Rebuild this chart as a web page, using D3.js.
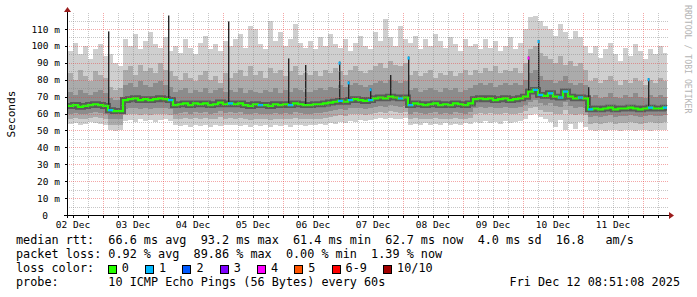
<!DOCTYPE html>
<html>
<head>
<meta charset="utf-8">
<script src="https://cdn.jsdelivr.net/npm/d3@7/dist/d3.min.js"></script>
<style>
  html, body { margin: 0; padding: 0; background: #fff; }
  svg text { font-family: "DejaVu Sans Mono", monospace; white-space: pre; }
</style>
</head>
<body>
<svg id="chart" width="697" height="297"></svg>
<script>
// data, one value per 2 hour bin (ms)
const rangeStart = "2025-12-02T09:36",
      rangeEnd = "2025-12-12T09:36";

const rttMedian = [64.5,65,64,64.5,65,65.5,65,64.5, 62,61.5,61.5,
  68,68.5,69,68,68.5,68,68.5,69,68.5,68,
  65,65.5,66,65,66,65.5,66,65,65.5,66.5,65.5,66,
  65.5,66,65,64.5,65.5,65,65,64.5,65.5,65,65.5,65,66,65.5,65,
  65,65.5,65.5,66,66.5,67,67.5,67, 68,68.5,68,67.5,68,
  69,69.5,69,70,69.5,69,69.5,
  65,66,65.5,65,65.5,66,65,65.5,65,66,65.5,65,66,
  68.5,69,68.5,69,68,68.5,69,68,68.5,69,70,
  73,74,71,70.5, 72,70,69.5,73,70,69,69.5,69,
  62.5,63,62.5,63,63.5,62.5,63,63,63.5,63,62.5,63,63.5,63,63,63.5];

const rttMax = [97,102,95,100,92,98,101,94, 95,90,88,
  104,100,107,98,103,108,101,99,105,97,
  100,96,104,99,95,102,106,98,101,97,103,100,
  104,107,99,112,110,101,98,115,103,108,100,104,113,102,99,
  103,98,105,100,107,101,99,104,97,102,106,100,98,
  108,103,116,105,100,112,104,
  102,106,98,104,100,107,103,99,105,101,97,104,100,
  101,98,104,99,103,97,100,105,98,102,110,
  117,118,115,112, 110,106,113,108,104,109,105,100,
  96,100,93,98,102,95,91,99,94,101,97,92,98,95,100,96];

const rttHigh2 = [84,80,86,82,79,85,83,81, 76,74,75,
  86,88,83,89,85,87,84,90,86,85,
  82,80,84,81,79,83,85,80,82,78,84,81,
  84,86,82,88,83,85,81,87,84,86,82,85,88,83,84,
  83,85,82,86,84,87,85,83,86,88,85,84,86,
  88,90,87,91,89,88,90,
  83,85,82,84,86,81,84,83,85,82,84,86,83,
  86,84,87,85,88,84,86,85,87,84,90,
  98,100,96,94, 92,90,94,89,91,88,90,86,
  79,81,78,80,82,79,77,80,78,81,79,77,80,78,81,79];

const rttHigh3 = [73,71,74,72,71,73,74,72, 69,68,68,
  77,78,76,79,77,76,78,79,77,76,
  73,74,75,72,74,73,75,72,74,75,73,74,
  73,75,72,74,73,72,74,73,75,72,74,73,75,74,73,
  73,74,75,74,76,75,77,76,77,78,77,76,77,
  78,79,78,80,79,78,79,
  74,75,73,74,75,74,73,75,74,75,73,74,75,
  77,78,77,78,76,77,78,77,78,77,80,
  84,86,82,80, 80,78,79,82,78,77,78,77,
  70,71,69,70,72,70,69,71,70,72,70,69,71,70,71,70];

const rttLow3 = [60,60.5,59.5,60,60.5,61,60.5,60, 57,56.5,56.5,
  62.5,63,63.5,62.5,63,62.5,63,63.5,63,62.5,
  60,60.5,61,60,61,60.5,61,60,60.5,61.5,60.5,61,
  60.5,61,60,59.5,60.5,60,60,59.5,60.5,60,60.5,60,61,60.5,60,
  60,60.5,60.5,61,61.5,62,62.5,62,63,63.5,63,62.5,63,
  64,64.5,64,65,64.5,64,64.5,
  60,61,60.5,60,60.5,61,60,60.5,60,61,60.5,60,61,
  63.5,64,63.5,64,63,63.5,64,63,63.5,64,65,
  67,68,66,65, 66,64.5,64,67,64.5,63.5,64,63.5,
  58,58.5,58,58.5,59,58,58.5,58.5,59,58.5,58,58.5,59,58.5,58.5,59];

const rttLow2 = [57,57.5,56.5,57,57.5,58,57.5,57, 53.5,53,53,
  59,59.5,60,59,59.5,59,59.5,60,59.5,59,
  56.5,57,57.5,56.5,57.5,57,57.5,56.5,57,58,57,57.5,
  57,57.5,56.5,56,57,56.5,56.5,56,57,56.5,57,56.5,57.5,57,56.5,
  56.5,57,57,57.5,58,58.5,59,58.5,59.5,60,59.5,59,59.5,
  60.5,61,60.5,61.5,61,60.5,61,
  56.5,57.5,57,56.5,57,57.5,56.5,57,56.5,57.5,57,56.5,57.5,
  60,60.5,60,60.5,59.5,60,60.5,59.5,60,60.5,61.5,
  63,64,62,61, 61,60,59.5,62,60,59,59.5,59,
  54,54.5,54,54.5,55,54,54.5,54.5,55,54.5,54,54.5,55,54.5,54.5,55];

const rttMin = [54,54.5,53.5,54,55,54.5,54,53.5, 50,49.5,50,
  55.5,56,55,56.5,55.5,56,55,56,56.5,55.5,
  53,52.5,53.5,52,53,52.5,53.5,52,53,52.5,53.5,53,
  53.5,52.5,53,52,53.5,52.5,53,52,53.5,52.5,53,52,53.5,53,52.5,
  53,53.5,54,53.5,54.5,54,55,54.5,55.5,55,56,55.5,56,
  57,57.5,56.5,57.5,57,56.5,57.5,
  53.5,54,53,54.5,53.5,54,53,54.5,53.5,54,53,54.5,54,
  55,54.5,55.5,54.5,55,54,55.5,54.5,55,55.5,57,
  59,60,58,57, 55,52,56,50,54,51,55,52,
  50,49.5,50.5,49.5,50,50.5,49.5,50,50.5,49.5,50,50.5,49.5,50,50.5,50];

// bins where pings were lost (bin index, lost pings of 10)
const lossBins = [8, 20, 32, 38, 44, 54, 56, 60, 66, 68, 93, 94, 96, 98, 99, 102, 104, 116, 119];
const lossCounts = [1, 1, 1, 1, 1, 1, 1, 1, 1, 1, 1, 1, 1, 1, 1, 1, 1, 1, 1];

// short high-latency spikes
const spikeTimes = ["2025-12-03T02:00", "2025-12-04T02:00", "2025-12-05T02:00", "2025-12-06T02:00",
  "2025-12-06T08:48", "2025-12-06T22:24", "2025-12-07T02:00", "2025-12-07T10:48", "2025-12-07T18:48",
  "2025-12-08T02:00", "2025-12-10T02:00", "2025-12-10T06:00", "2025-12-11T02:00", "2025-12-12T02:00"];
const spikeTops = [108.6, 118, 114.5, 92.6, 88.7, 90.7, 79, 75, 82.8, 93.7, 93.7, 103.5, 75.6, 80.9];
const spikeLoss = [0, 0, 0, 0, 0, 1, 1, 1, 0, 1, 4, 1, 0, 1];

const yTicks = [0, 10, 20, 30, 40, 50, 60, 70, 80, 90, 100, 110];
const lossLabels = ["0", "1", "2", "3", "4", "5", "6-9", "10/10"];
const lossColors = ["#26ff00", "#00b8ff", "#0059ff", "#7e00ff", "#ff00ff", "#ff5500", "#ff0000", "#a00000"];

const rttStats = ["66.6", "93.2", "61.4", "62.7", "4.0", "16.8"];
const lossStats = ["0.92", "89.86", "0.00", "1.39"];

// ---- setup
const parse = d3.timeParse("%Y-%m-%dT%H:%M");
const t0 = parse(rangeStart), t1 = parse(rangeEnd);
const plotL = 67, plotR = 667, plotT = 15, plotB = 215;

const x = d3.scaleTime().domain([t0, t1]).range([plotL, plotR]);
const y = d3.scaleLinear().domain([0, 118.3]).range([plotB, plotT]);

const svg = d3.select('#chart');

const binTimes = d3.timeHour.every(2).range(t0, t1).slice(0, rttMedian.length);
const bins = binTimes.map((t, i) => ({
  t, med: rttMedian[i], max: rttMax[i], h2: rttHigh2[i], h3: rttHigh3[i],
  l3: rttLow3[i], l2: rttLow2[i], min: rttMin[i]
}));
bins.push(Object.assign({}, bins[bins.length - 1], { t: t1 })); // close last step

const lossColor = n => n >= 10 ? lossColors[7] : n >= 6 ? lossColors[6] : lossColors[n];

// smoke, outer to inner
const smoke = [
  ['min', 'max', '#cfcfcf'],
  ['l2', 'h2', '#ababab'],
  ['l3', 'h3', '#8c8c8c']
];
smoke.forEach(([lo, hi, col]) => {
  svg.append('path')
    .datum(bins)
    .attr('fill', col)
    .attr('shape-rendering', 'crispEdges')
    .attr('d', d3.area()
      .curve(d3.curveStepAfter)
      .x(d => x(d.t))
      .y0(d => y(d[lo]))
      .y1(d => y(d[hi])));
});

// dark core around the median
const medLine = d3.line().curve(d3.curveStepAfter).x(d => x(d.t)).y(d => y(d.med));
svg.append('path').datum(bins)
  .attr('fill', 'none').attr('stroke', '#5a5a5a').attr('stroke-width', 6)
  .attr('d', medLine);

// spikes
spikeTimes.forEach((s, k) => {
  const t = parse(s);
  const i = Math.min(bins.length - 2, Math.floor((t - t0) / 7200000));
  const sx = Math.round(x(t));
  svg.append('rect')
    .attr('x', sx).attr('width', 1.4)
    .attr('y', y(spikeTops[k]))
    .attr('height', y(bins[i].med) - y(spikeTops[k]))
    .attr('fill', '#262626');
  if (spikeLoss[k] > 0) {
    svg.append('rect')
      .attr('x', sx - 0.5).attr('width', 2)
      .attr('y', y(spikeTops[k])).attr('height', 3)
      .attr('fill', lossColor(spikeLoss[k]));
  }
});

// median line
svg.append('path').datum(bins)
  .attr('fill', 'none').attr('stroke', lossColors[0]).attr('stroke-width', 2.2)
  .attr('d', medLine);

lossBins.forEach((b, k) => {
  const d = bins[b];
  svg.append('line')
    .attr('x1', x(d.t)).attr('x2', x(bins[b + 1].t))
    .attr('y1', y(d.med)).attr('y2', y(d.med))
    .attr('stroke', lossColor(lossCounts[k])).attr('stroke-width', 2.2);
});

// grid (dotted, drawn over the smoke like rrdtool)
const grid = svg.append('g').attr('shape-rendering', 'crispEdges').attr('stroke-dasharray', '1,1');
const dayTicks = d3.timeDay.range(t0, t1);
const hourTicks = d3.timeHour.every(6).range(t0, t1).filter(t => t.getHours() !== 0);

grid.selectAll('.vmin').data(hourTicks).enter().append('line')
  .attr('x1', d => Math.round(x(d)) + 0.5).attr('x2', d => Math.round(x(d)) + 0.5)
  .attr('y1', plotT - 2).attr('y2', plotB)
  .attr('stroke', 'rgba(130,130,130,0.45)');
grid.selectAll('.hmin').data(d3.range(5, 118, 10)).enter().append('line')
  .attr('x1', plotL).attr('x2', plotR + 1)
  .attr('y1', d => Math.round(y(d)) + 0.5).attr('y2', d => Math.round(y(d)) + 0.5)
  .attr('stroke', 'rgba(130,130,130,0.45)');
grid.selectAll('.vmaj').data(dayTicks).enter().append('line')
  .attr('x1', d => Math.round(x(d)) + 0.5).attr('x2', d => Math.round(x(d)) + 0.5)
  .attr('y1', plotT - 2).attr('y2', plotB)
  .attr('stroke', 'rgba(230,60,60,0.45)');
grid.selectAll('.hmaj').data(yTicks.slice(1)).enter().append('line')
  .attr('x1', plotL).attr('x2', plotR + 1)
  .attr('y1', d => Math.round(y(d)) + 0.5).attr('y2', d => Math.round(y(d)) + 0.5)
  .attr('stroke', 'rgba(230,60,60,0.45)');

// axes
const ax = svg.append('g').attr('shape-rendering', 'crispEdges').attr('stroke', '#000');
ax.append('line').attr('x1', plotL + 0.5).attr('x2', plotL + 0.5).attr('y1', plotB + 3).attr('y2', plotT - 4);
ax.append('line').attr('x1', plotL - 3).attr('x2', plotR + 4).attr('y1', plotB + 0.5).attr('y2', plotB + 0.5);
ax.selectAll('.yt').data(yTicks.slice(1)).enter().append('line')
  .attr('x1', plotL - 2).attr('x2', plotL)
  .attr('y1', d => Math.round(y(d)) + 0.5).attr('y2', d => Math.round(y(d)) + 0.5);
ax.selectAll('.xt').data(hourTicks.concat(dayTicks)).enter().append('line')
  .attr('x1', d => Math.round(x(d)) + 0.5).attr('x2', d => Math.round(x(d)) + 0.5)
  .attr('y1', plotB + 1).attr('y2', plotB + 3);

svg.append('path').attr('fill', '#9b1c1c')
  .attr('d', `M${plotL - 3},${plotT - 3} L${plotL + 4},${plotT - 3} L${plotL + 0.5},${plotT - 8} Z`);
svg.append('path').attr('fill', '#9b1c1c')
  .attr('d', `M${plotR + 2},${plotB - 3} L${plotR + 2},${plotB + 4} L${plotR + 7},${plotB + 0.5} Z`);

// axis labels
svg.selectAll('.ylab').data(yTicks).enter().append('text')
  .attr('x', d => d === 0 ? 48 : 60)
  .attr('y', d => y(d) + 3.5)
  .attr('text-anchor', 'end')
  .attr('font-size', '9.5px')
  .attr('fill', '#000')
  .text(d => d === 0 ? '0' : d + ' m');

const labelDays = d3.timeDay.range(d3.timeDay.floor(t0), t1)
  .map(d => d3.timeHour.offset(d, 12))
  .filter(d => d >= t0 && d <= t1);
svg.selectAll('.xlab').data(labelDays).enter().append('text')
  .attr('x', d => x(d))
  .attr('y', 228)
  .attr('text-anchor', 'middle')
  .attr('font-size', '9.5px')
  .text(d3.timeFormat('%d %b'));

svg.append('text')
  .attr('transform', 'translate(15,114) rotate(-90)')
  .attr('text-anchor', 'middle')
  .attr('font-size', '11.2px')
  .text('Seconds');

svg.append('text')
  .attr('transform', 'translate(684.5,5) rotate(90)')
  .attr('font-size', '8.2px')
  .attr('fill', '#b4b4b4')
  .text('RRDTOOL / TOBI OETIKER');

// legend
const lx = 16, fs = '11.8px', cw = 7.1;
const legend = [
  `median rtt:  ${rttStats[0]} ms avg  ${rttStats[1]} ms max  ${rttStats[2]} ms min  ${rttStats[3]} ms now  ${rttStats[4]} ms sd  ${rttStats[5]}   am/s`,
  `packet loss: ${lossStats[0]} % avg  ${lossStats[1]} % max  ${lossStats[2]} % min  ${lossStats[3]} % now`,
  'loss color:',
  'probe:       10 ICMP Echo Pings (56 Bytes) every 60s'
];
svg.selectAll('.leg').data(legend).enter().append('text')
  .attr('xml:space', 'preserve')
  .attr('x', lx)
  .attr('y', (d, i) => 244 + i * 14.1)
  .attr('font-size', fs)
  .text(d => d);

let bx = lx + 13 * cw - 0.5;
lossLabels.forEach((lab, i) => {
  svg.append('rect')
    .attr('x', Math.round(bx) + 0.5).attr('y', 265.5)
    .attr('width', 8).attr('height', 8)
    .attr('fill', lossColors[i]).attr('stroke', '#000').attr('stroke-width', 1);
  svg.append('text')
    .attr('x', bx + 14).attr('y', 272.2)
    .attr('font-size', fs)
    .text(lab);
  bx += 14 + lab.length * cw + 16.2;
});

svg.append('text')
  .attr('x', 680).attr('y', 286.3)
  .attr('text-anchor', 'end')
  .attr('font-size', fs)
  .text('Fri Dec 12 08:51:08 2025');
</script>
</body>
</html>
